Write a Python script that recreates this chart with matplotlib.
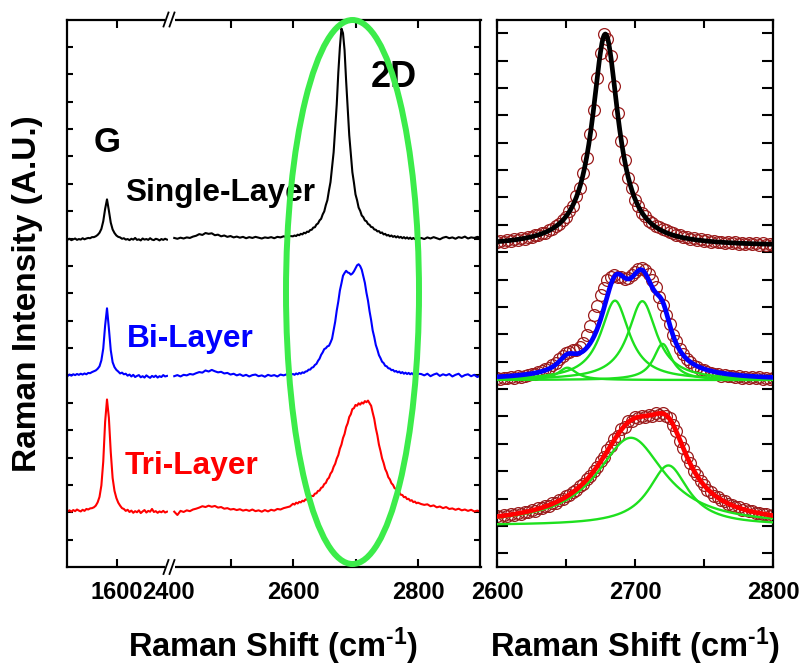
import matplotlib
matplotlib.use('Agg')
import matplotlib.pyplot as plt
import numpy as np
from matplotlib.patches import Ellipse, Rectangle
from matplotlib.lines import Line2D

plt.rcParams['font.family'] = ['Liberation Sans', 'DejaVu Sans']
plt.rcParams['font.weight'] = 'bold'
plt.rcParams['mathtext.fontset'] = 'custom'
plt.rcParams['mathtext.rm'] = 'Liberation Sans:bold'
plt.rcParams['mathtext.default'] = 'rm'

# ---------------------------------------------------------------- data
# Raman shift grids (cm^-1)
shift_g = np.arange(1521, 1681, 3)            # G band window
shift_low = np.arange(2410, 2600, 5)          # 2D window, below fit range
shift_mid = np.arange(2600, 2800.1, 2.5)      # 2D window, fitted range
shift_high = np.arange(2805, 2901, 5)         # 2D window, above fit range

layers = ['Single-Layer', 'Bi-Layer', 'Tri-Layer']

# normalised intensities, each relative to its own baseline
single_g = [-0.04, -0.01, -0.06, -0.03, 0.00, -0.05, -0.02, -0.04, 0.01, -0.03,
            0.00, 0.02, 0.01, 0.05, 0.05, 0.08, 0.13, 0.21, 0.35, 0.63,
            1.08, 1.43, 1.02, 0.58, 0.33, 0.20, 0.11, 0.06, 0.04, -0.01,
            0.01, -0.04, -0.02, -0.06, -0.01, -0.04, 0.02, -0.05, -0.03, -0.07,
            0.00, -0.04, -0.02, -0.05, 0.01, -0.04, -0.06, -0.01, -0.03, -0.07,
            -0.02, -0.05, -0.01, -0.04]
bi_g = [-0.02, 0.03, -0.01, 0.04, 0.01, 0.05, 0.02, 0.06, 0.03, 0.07,
        0.04, 0.09, 0.08, 0.12, 0.15, 0.18, 0.24, 0.33, 0.55, 0.98,
        1.82, 2.45, 1.72, 0.92, 0.48, 0.30, 0.20, 0.14, 0.07, 0.10,
        0.04, 0.06, -0.01, 0.03, -0.04, 0.02, -0.06, -0.02, 0.01, -0.07,
        -0.03, -0.08, 0.00, -0.05, -0.09, -0.02, -0.06, -0.01, -0.08, -0.03,
        -0.06, 0.01, -0.04, -0.02]
tri_g = [0.03, 0.07, 0.02, 0.08, 0.04, 0.10, 0.06, 0.03, 0.09, 0.05,
         0.12, 0.10, 0.14, 0.15, 0.18, 0.24, 0.36, 0.56, 0.98, 1.85,
         3.30, 4.12, 3.45, 2.20, 1.25, 0.78, 0.52, 0.35, 0.24, 0.15,
         0.12, 0.05, 0.09, 0.01, 0.06, -0.02, 0.04, 0.00, 0.07, -0.03,
         0.03, 0.08, -0.01, 0.05, 0.02, 0.12, 0.01, 0.04, -0.02, 0.03,
         0.00, 0.05, -0.01, 0.02]

single_low = [0.02, -0.01, 0.03, 0.00, 0.04, 0.02, 0.07, 0.10, 0.16, 0.13,
              0.20, 0.17, 0.19, 0.12, 0.14, 0.08, 0.11, 0.06, 0.09, 0.04,
              0.07, 0.03, 0.06, 0.01, 0.05, 0.02, 0.06, 0.03, 0.00, 0.04,
              0.02, 0.05, 0.01, 0.06, 0.04, 0.08, 0.05, 0.09]
bi_low = [-0.03, 0.01, -0.04, 0.02, 0.00, 0.05, 0.03, 0.08, 0.12, 0.10,
          0.18, 0.14, 0.20, 0.15, 0.11, 0.13, 0.07, 0.09, 0.03, 0.06,
          0.00, 0.04, -0.02, 0.02, -0.04, 0.01, 0.03, -0.03, 0.00, -0.05,
          0.02, -0.02, 0.01, -0.04, 0.03, 0.00, 0.04, 0.02]
tri_low = [0.02, -0.10, 0.05, 0.01, 0.07, 0.04, 0.10, 0.13, 0.17, 0.22,
           0.19, 0.24, 0.20, 0.23, 0.17, 0.19, 0.13, 0.15, 0.10, 0.12,
           0.08, 0.11, 0.06, 0.09, 0.05, 0.10, 0.04, 0.07, 0.02, 0.08,
           0.03, 0.09, 0.06, 0.12, 0.10, 0.15, 0.18, 0.21]

single_mid = [0.08, 0.11, 0.09, 0.14, 0.12, 0.17, 0.15, 0.21, 0.19, 0.25,
              0.24, 0.31, 0.32, 0.40, 0.41, 0.51, 0.55, 0.66, 0.72, 0.88,
              0.99, 1.22, 1.40, 1.75, 2.06, 2.60, 3.15, 4.02, 4.90, 6.06,
              6.98, 7.67, 7.50, 6.88, 5.76, 4.78, 3.77, 3.08, 2.42, 2.04,
              1.61, 1.40, 1.13, 1.01, 0.84, 0.78, 0.66, 0.63, 0.53, 0.50,
              0.42, 0.41, 0.33, 0.32, 0.26, 0.27, 0.20, 0.22, 0.15, 0.17,
              0.11, 0.13, 0.08, 0.11, 0.06, 0.09, 0.04, 0.08, 0.03, 0.06,
              0.01, 0.05, 0.00, 0.04, -0.01, 0.03, -0.02, 0.02, -0.02, 0.01,
              -0.03]
bi_mid = [0.05, 0.02, 0.07, 0.04, 0.09, 0.06, 0.11, 0.09, 0.14, 0.15,
          0.21, 0.21, 0.28, 0.30, 0.38, 0.42, 0.53, 0.61, 0.75, 0.84,
          0.96, 0.99, 1.06, 1.08, 1.20, 1.34, 1.64, 1.96, 2.37, 2.70,
          3.10, 3.36, 3.64, 3.74, 3.82, 3.76, 3.74, 3.68, 3.72, 3.80,
          3.91, 4.02, 4.06, 3.99, 3.86, 3.62, 3.38, 3.02, 2.73, 2.34,
          2.02, 1.64, 1.40, 1.11, 0.94, 0.74, 0.63, 0.50, 0.45, 0.35,
          0.33, 0.26, 0.25, 0.19, 0.20, 0.14, 0.16, 0.11, 0.14, 0.08,
          0.12, 0.06, 0.10, 0.05, 0.09, 0.04, 0.08, 0.03, 0.07, 0.02,
          0.06]
tri_mid = [0.31, 0.28, 0.35, 0.32, 0.38, 0.36, 0.42, 0.40, 0.47, 0.46,
           0.53, 0.51, 0.60, 0.59, 0.68, 0.69, 0.78, 0.79, 0.89, 0.92,
           1.03, 1.07, 1.20, 1.26, 1.41, 1.49, 1.66, 1.77, 1.96, 2.09,
           2.32, 2.47, 2.71, 2.86, 3.11, 3.25, 3.48, 3.58, 3.77, 3.80,
           3.92, 3.89, 3.98, 3.93, 4.01, 3.97, 4.06, 4.02, 4.08, 3.98,
           3.89, 3.64, 3.41, 3.07, 2.81, 2.47, 2.24, 1.97, 1.80, 1.58,
           1.46, 1.28, 1.20, 1.06, 1.00, 0.88, 0.85, 0.75, 0.73, 0.64,
           0.63, 0.55, 0.56, 0.48, 0.49, 0.42, 0.44, 0.37, 0.39, 0.33,
           0.35]

single_high = [0.02, -0.02, 0.04, 0.00, 0.05, 0.01, -0.03, 0.03, 0.06, 0.01,
               0.04, -0.01, 0.05, 0.02, 0.07, 0.00, 0.04, 0.02, 0.06, 0.03]
bi_high = [0.05, 0.00, 0.06, -0.03, 0.03, 0.07, -0.02, 0.04, 0.00, 0.05,
           -0.04, 0.02, 0.06, -0.05, 0.01, 0.04, -0.03, 0.02, -0.06, 0.00]
tri_high = [0.30, 0.27, 0.29, 0.22, 0.25, 0.18, 0.21, 0.15, 0.19, 0.12,
            0.14, 0.09, 0.13, 0.07, 0.10, 0.05, 0.09, 0.03, 0.06, 0.02]

# Lorentzian fit of the 2D band: centre, height, half width, constant background
single_fit_centre = [2678.5]
single_fit_height = [7.75]
single_fit_hwhm = [11.5]
single_fit_bg = -0.08
bi_fit_centre = [2651.0, 2685.5, 2705.3, 2720.0]
bi_fit_height = [0.45, 2.90, 2.88, 1.32]
bi_fit_hwhm = [8.0, 12.5, 12.5, 8.0]
bi_fit_bg = -0.02
tri_fit_centre = [2697.0, 2724.2]
tri_fit_height = [3.20, 2.19]
tri_fit_hwhm = [30.0, 17.5]
tri_fit_bg = -0.03

# ---------------------------------------------------------------- layout
W, H = 803, 669


def fx(px):
    return px / W


def fy(py):
    return 1 - py / H


colors = ['black', '#0000ff', '#ff0000']
left_offsets = [12.0, 7.0, 2.0]
right_offsets = [11.8, 6.85, 1.55]
circle_col = '#9b1c1c'
comp_col = '#1ee01e'

fig = plt.figure(figsize=(W / 100, H / 100), dpi=100)
top, bot = 19.5, 567
ax_g = fig.add_axes([fx(67), fy(bot), fx(168) - fx(67), (bot - top) / H])
ax_d = fig.add_axes([fx(168), fy(bot), fx(480.5) - fx(168), (bot - top) / H])
ax_r = fig.add_axes([fx(497), fy(bot), fx(773) - fx(497), (bot - top) / H])

for ax in (ax_g, ax_d, ax_r):
    for s in ax.spines.values():
        s.set_linewidth(1.6)
    ax.set_ylim(0, 20)
    ax.tick_params(direction='in', width=1.5, labelsize=17, pad=10)

# left panel: G window
g_sets = [single_g, bi_g, tri_g]
for vals, off, c in zip(g_sets, left_offsets, colors):
    ax_g.plot(shift_g, np.array(vals) + off, color=c, lw=1.5)
ax_g.set_xlim(1520, 1681.6)
ax_g.set_xticks([1600])
ax_g.set_xticklabels(['1600'])
ax_g.set_yticks(np.arange(1, 20))
ax_g.spines['right'].set_visible(False)
ax_g.tick_params(axis='x', top=True, bottom=True, length=6)
ax_g.tick_params(axis='y', left=True, right=False, labelleft=False, length=4.5)

# left panel: 2D window
d_sets = [(single_low, single_mid, single_high),
          (bi_low, bi_mid, bi_high),
          (tri_low, tri_mid, tri_high)]
shift_d = np.concatenate([shift_low, shift_mid, shift_high])
for (lo, mi, hi), off, c in zip(d_sets, left_offsets, colors):
    ax_d.plot(shift_d, np.concatenate([lo, mi, hi]) + off, color=c, lw=1.5)
ax_d.set_xlim(2400, 2900)
ax_d.set_xticks([2400, 2500, 2600, 2700, 2800])
ax_d.set_xticklabels(['2400', '', '2600', '', '2800'])
ax_d.set_yticks(np.arange(1, 20))
ax_d.spines['left'].set_visible(False)
ax_d.tick_params(axis='x', top=True, bottom=True, length=6)
ax_d.tick_params(axis='y', left=False, right=True, labelleft=False, length=4.5)
t0 = ax_d.xaxis.get_major_ticks()[0]
t0.tick1line.set_visible(False)
t0.tick2line.set_visible(False)

# right panel: fitted 2D band
fine = np.linspace(2600, 2800, 401)


def lorentz(x, c, h, w):
    return h / (1 + ((x - c) / w) ** 2)


fits = [(single_fit_centre, single_fit_height, single_fit_hwhm, single_fit_bg),
        (bi_fit_centre, bi_fit_height, bi_fit_hwhm, bi_fit_bg),
        (tri_fit_centre, tri_fit_height, tri_fit_hwhm, tri_fit_bg)]
mids = [single_mid, bi_mid, tri_mid]
for i, (mi, off, c) in enumerate(zip(mids, right_offsets, colors)):
    ax_r.plot(shift_mid, np.array(mi) + off, 'o', ms=8.5, mfc='none',
              mec=circle_col, mew=0.9, zorder=2)
    cen, hgt, hw, bg = fits[i]
    comps = [lorentz(fine, a, b, w) for a, b, w in zip(cen, hgt, hw)]
    if len(comps) > 1:
        for comp in comps:
            ax_r.plot(fine, comp + off + bg, color=comp_col, lw=1.7, zorder=3)
    total = np.sum(comps, axis=0) + off + bg
    ax_r.plot(fine, total, color=c, lw=3.4, zorder=4)
ax_r.set_xlim(2600, 2800)
ax_r.set_xticks([2600, 2650, 2700, 2750, 2800])
ax_r.set_xticklabels(['2600', '', '2700', '', '2800'])
ax_r.set_yticks(np.arange(0.5, 20, 1))
ax_r.tick_params(axis='x', top=True, bottom=True, length=6)
ax_r.tick_params(axis='y', left=True, right=True, labelleft=False, length=8)

# axis break marks on the left panel
for yb in (top, bot):
    fig.add_artist(Rectangle((fx(165.5), fy(yb + 3)), 10 / W, 6 / H,
                             transform=fig.transFigure, facecolor='white',
                             edgecolor='none', zorder=20))
    for x0 in (163.5, 169.5):
        fig.add_artist(Line2D([fx(x0), fx(x0 + 5)], [fy(yb + 7), fy(yb - 7)],
                              transform=fig.transFigure, color='black',
                              lw=1.3, zorder=21))

# green ellipse around the 2D band
fig.add_artist(Ellipse((fx(352.5), fy(292)), 133 / W, 544 / H,
                       transform=fig.transFigure, fill=False,
                       edgecolor='#3cec4a', lw=4.3, zorder=15))

# annotations
fig.text(fx(107.5), fy(152), 'G', ha='center', va='baseline', fontsize=25)
fig.text(fx(394), fy(87), '2D', ha='center', va='baseline', fontsize=26)
fig.text(fx(125), fy(201.5), 'Single-Layer', ha='left', va='baseline',
         fontsize=22.8, color=colors[0])
fig.text(fx(126.7), fy(346.7), 'Bi-Layer', ha='left', va='baseline',
         fontsize=22.8, color=colors[1])
fig.text(fx(125), fy(474), 'Tri-Layer', ha='left', va='baseline',
         fontsize=22.8, color=colors[2])

xlab = r'Raman Shift (cm$^{\text{-1}}$)'
fig.text(fx(273), fy(657), xlab, ha='center', va='baseline', fontsize=23.5)
fig.text(fx(635.5), fy(657), xlab, ha='center', va='baseline', fontsize=23.5)
fig.text(fx(27.5), fy(293.5), 'Raman Intensity (A.U.)', rotation=90,
         ha='center', va='center', fontsize=24)

fig.savefig('out.png', dpi=100, facecolor='white')
